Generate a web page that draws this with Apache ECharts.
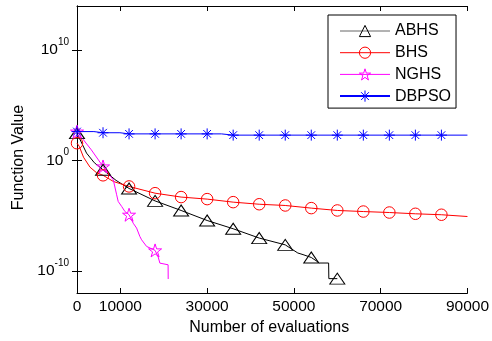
<!DOCTYPE html>
<html>
<head>
<meta charset="utf-8">
<script src="https://cdn.jsdelivr.net/npm/echarts@6/dist/echarts.min.js"></script>
<style>
html,body{margin:0;padding:0;background:#fff;}
#c{width:492px;height:341px;}
</style>
</head>
<body>
<div id="c"></div>
<script>
// ---- data ----
const seriesNames = ['ABHS', 'BHS', 'NGHS', 'DBPSO'];
const xTickValues = [0, 10000, 30000, 50000, 70000, 90000];
const yTickValues = [1e-10, 1, 1e10];

const abhsX = [0, 2200, 4000, 6000, 9000, 12000, 18000, 24000, 30000, 36000, 42000, 48000, 50900, 52100, 54000, 55900, 58000, 58050, 60000];
const abhsY = [3.0e2, 4.7e0, 6.3e-1, 1.45e-1, 1.6e-2, 2.95e-3, 2.2e-4, 3.0e-5, 3.7e-6, 6.6e-7, 9.5e-8, 2.3e-8, 4.2e-9, 3.0e-9, 1.65e-9, 5.2e-10, 5.2e-10, 2.0e-11, 2.0e-11];

const bhsX = [0, 500, 1500, 3000, 4500, 6000, 8400, 12000, 18000, 24000, 30000, 36000, 42000, 48000, 54000, 60000, 66000, 72000, 78000, 84000, 90000];
const bhsY = [3.7e1, 2.0e1, 2.0e0, 2.5e-1, 7.9e-2, 4.6e-2, 1.26e-2, 4.5e-3, 1.1e-3, 4.9e-4, 3.2e-4, 1.7e-4, 1.1e-4, 8.5e-5, 4.9e-5, 3.0e-5, 2.4e-5, 1.95e-5, 1.5e-5, 1.23e-5, 8.5e-6];

const nghsX = [0, 3300, 6000, 8360, 9140, 9500, 10300, 11050, 12000, 12960, 13740, 14500, 14890, 16040, 18000, 18720, 19100, 21000, 21020];
const nghsY = [4.2e2, 9.3e0, 2.9e-1, 1.8e-2, 7.9e-4, 1.95e-4, 6.9e-5, 2.4e-5, 1.23e-5, 2.1e-6, 7.6e-7, 1.3e-7, 6.6e-8, 1.66e-8, 7.2e-9, 1.8e-9, 5.1e-10, 3.6e-10, 1.86e-11];

const dbpsoX = [0, 3900, 4000, 6000, 9900, 10000, 12000, 18000, 24000, 30000, 33300, 33400, 36000, 42000, 48000, 54000, 60000, 66000, 72000, 78000, 84000, 90000];
const dbpsoY = [4.2e2, 4.2e2, 3.3e2, 3.3e2, 3.3e2, 2.6e2, 2.6e2, 2.6e2, 2.6e2, 2.6e2, 2.6e2, 2.0e2, 2.0e2, 2.0e2, 2.0e2, 2.0e2, 2.0e2, 2.0e2, 2.0e2, 2.0e2, 2.0e2, 2.0e2];

// ---- styling ----
const FONT = 'Liberation Sans, Arial, Helvetica, sans-serif';
const MARK_STEP = 6000, MARK_MAX = 84000;
const STAR = 'path://M0,-1L0.2245,-0.309L0.951,-0.309L0.363,0.118L0.588,0.809L0,0.382L-0.588,0.809L-0.363,0.118L-0.951,-0.309L-0.2245,-0.309Z';
const ASTER = 'path://M0,-1L0,1M-1,0L1,0M-0.7,-0.7L0.7,0.7M-0.7,0.7L0.7,-0.7';
const COLORS = { ABHS: '#000000', BHS: '#ff0000', NGHS: '#ff00ff', DBPSO: '#0000ff' };
const SYMBOLS = { ABHS: 'triangle', BHS: 'circle', NGHS: STAR, DBPSO: ASTER };
const SIZES = { ABHS: [15, 11], BHS: 11.5, NGHS: 13, DBPSO: 11 };

function build(xs, ys) {
  return xs.map((x, i) => (x % MARK_STEP === 0 && x <= MARK_MAX)
    ? { value: [x, ys[i]] }
    : { value: [x, ys[i]], symbol: 'none' });
}

function mk(name, xs, ys) {
  const color = COLORS[name];
  return {
    name: name, type: 'line', data: build(xs, ys),
    symbol: SYMBOLS[name], symbolSize: SIZES[name], showAllSymbol: true,
    color: color,
    lineStyle: { color: color, width: 1 },
    itemStyle: { color: 'rgba(0,0,0,0)', borderColor: color, borderWidth: 1 },
    emphasis: { disabled: true }, animation: false
  };
}

const chart = echarts.init(document.getElementById('c'), null, { renderer: 'canvas' });
const axisLine = { show: true, lineStyle: { color: '#000', width: 1 } };
const yFormatter = v => '{b|10}{s|' + Math.round(Math.log10(v)) + '}';

chart.setOption({
  animation: false,
  backgroundColor: '#fff',
  textStyle: { fontFamily: FONT },
  grid: { left: 77, right: 24, top: 6, bottom: 48 },
  legend: {
    orient: 'vertical', left: 328, top: 15,
    padding: [8, 5, 4, 11], itemGap: 5.7, itemWidth: 50, itemHeight: 14,
    backgroundColor: '#fff', borderColor: '#000', borderWidth: 1, borderRadius: 0,
    textStyle: { fontFamily: FONT, fontSize: 16, color: '#000' },
    data: seriesNames.map(n => ({
      name: n,
      itemStyle: { color: 'rgba(0,0,0,0)', borderColor: COLORS[n], borderWidth: 1 },
      lineStyle: { color: COLORS[n], width: n === 'DBPSO' ? 2 : 1, opacity: n === 'ABHS' ? 0.6 : 1 }
    }))
  },
  xAxis: [{
    type: 'value', min: 0, max: 90000, interval: 10000, position: 'bottom',
    name: 'Number of evaluations', nameLocation: 'middle', nameGap: 25,
    nameTextStyle: { fontFamily: FONT, fontSize: 16, color: '#000', padding: [0, 6, 0, 0] },
    axisLine: axisLine,
    axisTick: { show: true, inside: true, length: 5, customValues: xTickValues, lineStyle: { color: '#000' } },
    axisLabel: { customValues: xTickValues, formatter: v => String(v), fontFamily: FONT, fontSize: 15.5, color: '#000', margin: 6 },
    splitLine: { show: false }
  }, {
    type: 'value', min: 0, max: 90000, interval: 10000, position: 'top',
    axisLine: axisLine,
    axisTick: { show: true, inside: true, length: 5, customValues: xTickValues, lineStyle: { color: '#000' } },
    axisLabel: { show: false }, splitLine: { show: false }
  }],
  yAxis: [{
    type: 'log', logBase: 10, min: 1e-12, max: 1e14, position: 'left',
    name: 'Function Value', nameLocation: 'middle', nameGap: 50, nameRotate: 90,
    nameTextStyle: { fontFamily: FONT, fontSize: 16, color: '#000', padding: [0, 16, 0, 0] },
    axisLine: axisLine,
    axisTick: { show: true, inside: true, length: 5, customValues: yTickValues, lineStyle: { color: '#000' } },
    axisLabel: {
      customValues: yTickValues, formatter: yFormatter, margin: 8,
      rich: {
        b: { fontFamily: FONT, fontSize: 15.5, color: '#000' },
        s: { fontFamily: FONT, fontSize: 10, color: '#000', padding: [0, 0, 16, 0] }
      }
    },
    splitLine: { show: false }
  }, {
    type: 'log', logBase: 10, min: 1e-12, max: 1e14, position: 'right',
    axisLine: axisLine,
    axisTick: { show: true, inside: true, length: 5, customValues: yTickValues, lineStyle: { color: '#000' } },
    axisLabel: { show: false }, splitLine: { show: false }
  }],
  series: [
    mk('ABHS', abhsX, abhsY),
    mk('BHS', bhsX, bhsY),
    mk('NGHS', nghsX, nghsY),
    mk('DBPSO', dbpsoX, dbpsoY)
  ]
});
</script>
</body>
</html>
